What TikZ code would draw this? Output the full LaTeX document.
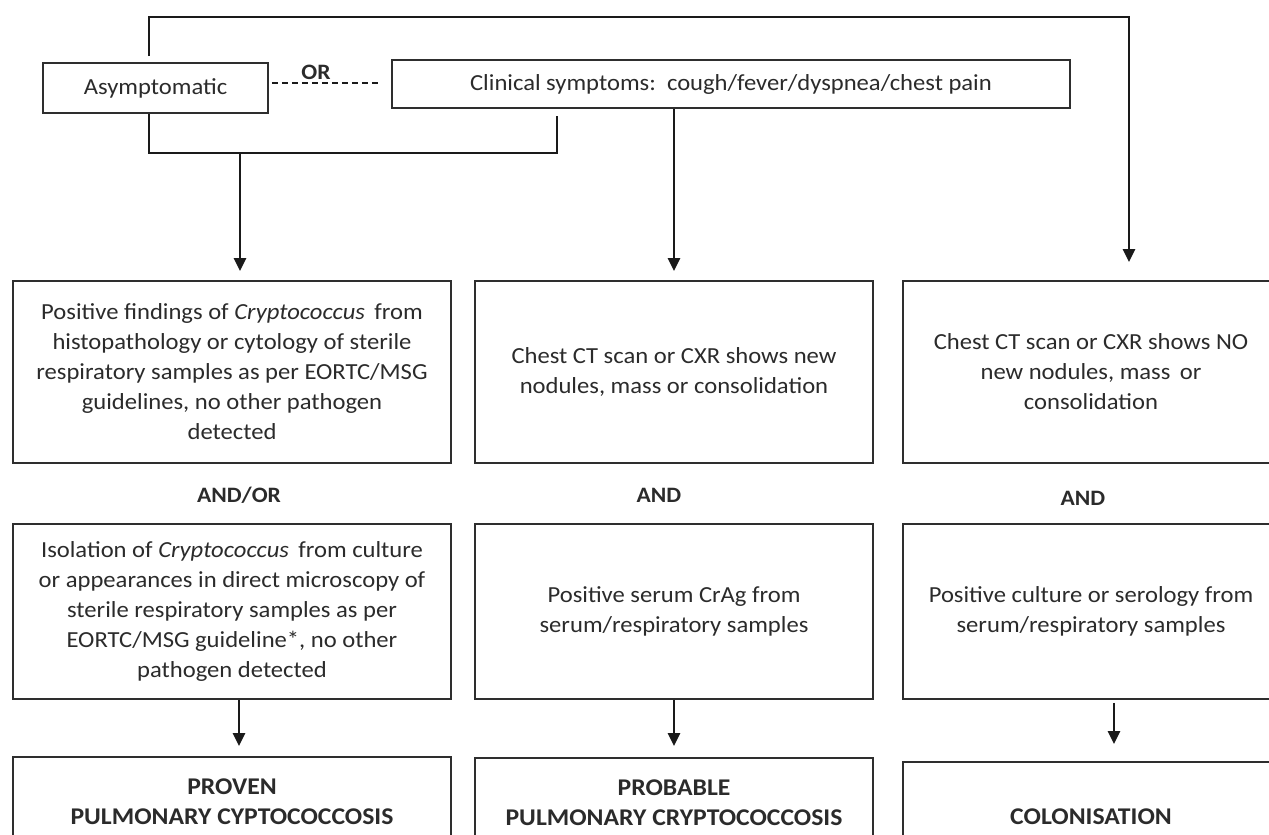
\documentclass[tikz,border=0pt]{standalone}
\usepackage{fontspec}
\setmainfont{Carlito}[FakeStretch=1.07]
\usetikzlibrary{arrows.meta}
\definecolor{txtgray}{HTML}{2B2B2B}
\definecolor{linegray}{HTML}{1A1A1A}
\definecolor{boxgray}{HTML}{2E2E2E}
\tikzset{
  box/.style={draw=boxgray, line width=1.8pt, align=center, inner sep=0pt,
    font=\fontsize{23}{30}\selectfont, text=txtgray},
  endbox/.style={box, font=\fontsize{24}{30}\selectfont\bfseries},
  conn/.style={draw=linegray, line width=2.6pt},
  arr/.style={conn, -{Triangle[width=12pt,length=13pt]}, shorten >=9pt},
  lbl/.style={font=\fontsize{22}{25}\selectfont\bfseries, text=txtgray}
}
\begin{document}
\begin{tikzpicture}[x=1pt, y=-1pt]
\useasboundingbox (0,0) rectangle (1269,835);

% top row: presentation
\node[box, minimum width=225pt, minimum height=50pt] (asym) at (155.5,88) {Asymptomatic};
\node[box, minimum width=678pt, minimum height=48pt] (clin) at (731,84)
  {Clinical symptoms:\ \ cough/fever/dyspnea/chest pain};
\node[lbl] (orlbl) at (316,72) {OR};
\draw[draw=linegray, line width=1.4pt, dashed, dash pattern=on 6pt off 4pt, shorten <=3pt, shorten >=10pt]
  ([yshift=5pt]asym.east) -- ([yshift=5pt]asym.east -| clin.west);

% first row of criteria
\node[box, minimum width=438pt, minimum height=182pt] (a1) at (232,372)
  {Positive findings of \textit{Cryptococcus}\, from\\ histopathology or cytology of sterile\\
   respiratory samples as per EORTC/MSG\\ guidelines, no other pathogen\\ detected};
\node[box, minimum width=398pt, minimum height=182pt] (b1) at (674,372)
  {Chest CT scan or CXR shows new\\ nodules, mass or consolidation};
\node[box, minimum width=376pt, minimum height=182pt] (c1) at (1091,372)
  {Chest CT scan or CXR shows NO\\ new nodules, mass\, or\\ consolidation};

\node[lbl] (andor) at (239,495) {AND/OR};
\node[lbl] (and1) at (659,495) {AND};
\node[lbl] (and2) at (1083,498) {AND};

% second row of criteria
\node[box, minimum width=438pt, minimum height=175pt] (a2) at (232,611.5)
  {Isolation of \textit{Cryptococcus}\, from culture\\ or appearances in direct microscopy of\\
   sterile respiratory samples as per\\ EORTC/MSG guideline*, no other\\ pathogen detected};
\node[box, minimum width=398pt, minimum height=175pt] (b2) at (674,611.5)
  {Positive serum CrAg from\\ serum/respiratory samples};
\node[box, minimum width=376pt, minimum height=175pt] (c2) at (1091,611.5)
  {Positive culture or serology from\\ serum/respiratory samples};

% outcome
\node[endbox, minimum width=438pt, minimum height=90pt] (a3) at (232,802)
  {PROVEN\\ PULMONARY CYPTOCOCCOSIS};
\node[endbox, minimum width=398pt, minimum height=90pt] (b3) at (674,803)
  {PROBABLE\\ PULMONARY CRYPTOCOCCOSIS};
\node[endbox, minimum width=376pt, minimum height=110pt] (c3) at (1091,817)
  {COLONISATION};

% connectors
\coordinate (brL) at (149,153);
\coordinate (brR) at (557,153);
\coordinate (merge) at (240,153);
\coordinate (topL) at (149,17);
\coordinate (topR) at (1129,17);
\draw[arr, shorten <=6pt, shorten >=18pt] ([xshift=-6.5pt]asym.north) -- (topL) -- (topR) -- (topR |- c1.north);
\draw[conn, shorten >=7pt] ([xshift=-6.5pt]asym.south) -- (brL) -- (brR) -- (brR |- clin.south);
\draw[arr] (merge) -- (merge |- a1.north);
\draw[arr] (clin.south -| b1.north) -- (b1.north);

\draw[arr, shorten >=10pt] ([xshift=7pt]a2.south) -- ([xshift=7pt]a3.north);
\draw[arr, shorten >=11pt] (b2.south) -- (b3.north);
\draw[arr, shorten >=17pt] ([xshift=23pt,yshift=-3pt]c2.south) -- ([xshift=23pt]c3.north);
\end{tikzpicture}
\end{document}
